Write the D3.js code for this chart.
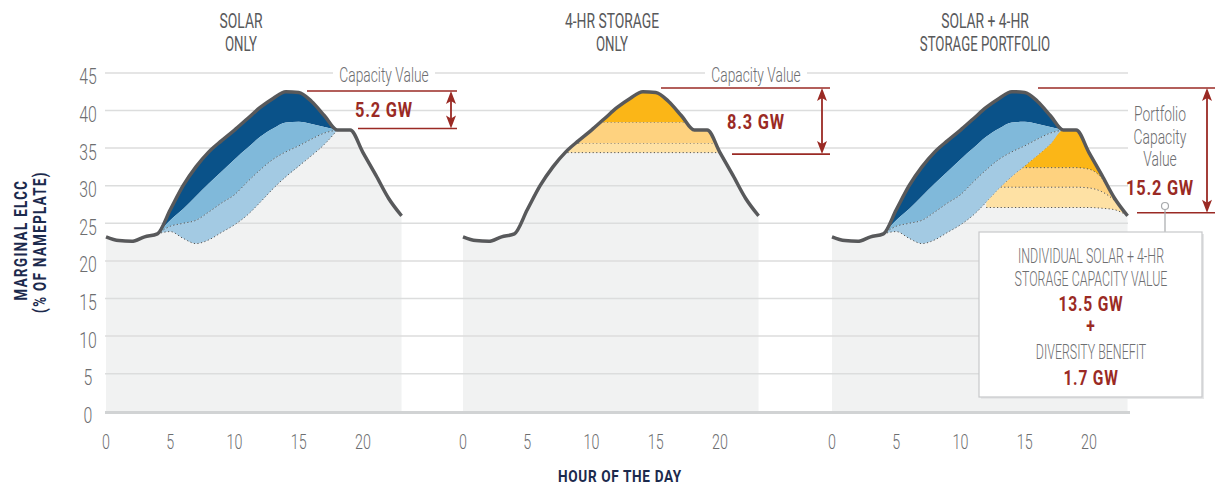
<!DOCTYPE html>
<html>
<script src="https://d3js.org/d3.v7.min.js"></script>

<head>
    <style>
        body {
            margin: 0;
            background-color: #fff;
            font-family: Roboto, "Open Sans", sans-serif;
        }

        svg {
            display: block;
        }
    </style>
</head>

<body>
</body>
<script>
    // ---- data ----
    const hours = d3.range(0, 24);
    const totalElcc = [23.2, 22.7, 22.6, 23.2, 23.6, 26.8, 30.0, 32.5, 34.5, 36.0, 37.4, 38.9,
        40.4, 41.6, 42.5, 42.4, 41.2, 39.3, 37.4, 37.4, 34.4, 31.4, 28.3, 26.0];

    // solar tranches, hours 4..18
    const solarHours = d3.range(4, 19);
    const solarTier1 = [23.6, 25.4, 26.9, 28.6, 30.3, 31.9, 33.5, 35.0, 36.5, 37.6, 38.4, 38.5, 38.2, 37.8, 37.4];
    const solarTier2 = [23.6, 24.6, 25.0, 25.4, 26.5, 27.7, 28.8, 30.5, 32.1, 33.5, 34.5, 35.3, 36.2, 37.0, 37.4];
    const solarTier3 = [23.6, 23.9, 23.0, 22.3, 22.8, 23.8, 24.8, 26.1, 27.8, 29.6, 31.2, 32.6, 34.0, 35.5, 37.4];

    // 4-hr storage tranches (flat levels)
    const storageLevels = [38.4, 35.6, 34.4];

    // portfolio storage tranches, hours 12..23
    const portfolioHours = d3.range(12, 24);
    const portfolioTier1 = [32.4, 32.4, 32.4, 32.4, 32.4, 32.4, 32.4, 32.4, 32.2, 31.0, 28.2, 26.0];
    const portfolioTier2 = [29.8, 29.8, 29.8, 29.8, 29.8, 29.8, 29.8, 29.8, 29.7, 29.2, 28.0, 26.0];
    const portfolioTier3 = [27.1, 27.1, 27.1, 27.1, 27.1, 27.1, 27.1, 27.1, 27.1, 27.0, 26.8, 26.0];

    const panelTitles = [["SOLAR", "ONLY"], ["4-HR STORAGE", "ONLY"], ["SOLAR + 4-HR", "STORAGE PORTFOLIO"]];
    const xTicks = [0, 5, 10, 15, 20];
    const yTicks = [0, 5, 10, 15, 20, 25, 30, 35, 40, 45];
    const capacityLabels = ["5.2 GW", "8.3 GW", "15.2 GW"];
    const capacityRanges = [[42.6, 37.6], [43.0, 34.2], [43.0, 26.4]];
    const boxLines = ["INDIVIDUAL SOLAR + 4-HR", "STORAGE CAPACITY VALUE", "13.5 GW", "+", "DIVERSITY BENEFIT", "1.7 GW"];

    // ---- layout ----
    const width = 1221,
        height = 487;
    const panelX = [106, 463, 832];
    const hourPx = 12.85;
    const red = "#9a2a24";
    const navy = "#1c2a4d";
    const colors = {
        gray: "#f1f2f2",
        grid: "#dcdddd",
        line: "#58595b",
        blue1: "#0a5289",
        blue2: "#80b9da",
        blue3: "#a3cae3",
        gold1: "#fbb617",
        gold2: "#fed27f",
        gold3: "#fee1a4"
    };

    const svg = d3.select("body").append("svg").attr("width", width).attr("height", height);
    const defs = svg.append("defs");

    const y = d3.scaleLinear().domain([0, 45]).range([411.3, 72.9]);
    const xs = panelX.map(x0 => d3.scaleLinear().domain([0, 23]).range([x0, x0 + 23 * hourPx]));

    // condensed look: scale text horizontally
    function label(g, x, yy, str, o) {
        return g.append("text")
            .attr("transform", `translate(${x},${yy})${o.rotate ? " rotate(-90)" : ""} scale(${o.sx || 0.7},1)`)
            .attr("text-anchor", o.anchor || "middle")
            .attr("font-size", o.size || 18)
            .attr("font-weight", o.weight || 300)
            .attr("fill", o.fill || "#6d6e70")
            .attr("letter-spacing", o.ls || 0)
            .text(str);
    }

    const totalData = hours.map((h, i) => ({ h: h, v: totalElcc[i] }));

    // gray area under the curve
    xs.forEach(x => {
        svg.append("path")
            .datum(totalData)
            .attr("fill", colors.gray)
            .attr("d", d3.area().curve(d3.curveMonotoneX)
                .x(d => x(d.h)).y0(y(0)).y1(d => y(d.v)));
    });

    // gridlines
    yTicks.filter(d => d > 0).forEach(d => {
        svg.append("line")
            .attr("x1", 105).attr("x2", 1128)
            .attr("y1", y(d)).attr("y2", y(d))
            .attr("stroke", colors.grid)
            .attr("stroke-width", 1.5);
    });
    svg.append("line")
        .attr("x1", 105).attr("x2", 1130)
        .attr("y1", y(0) + 1.2).attr("y2", y(0) + 1.2)
        .attr("stroke", "#d1d3d4")
        .attr("stroke-width", 3);

    // y labels
    yTicks.forEach(d => {
        label(svg, 88, y(d) + 11.5, d, { size: 22, sx: 0.72 });
    });

    function band(x, hs, lo, hi) {
        return d3.area().curve(d3.curveMonotoneX)
            .x((d, i) => x(hs[i]))
            .y0((d, i) => y(lo[i]))
            .y1((d, i) => y(hi[i]))(hs);
    }

    function dotted(g, x, hs, vals) {
        g.append("path")
            .attr("fill", "none")
            .attr("stroke", "#555")
            .attr("stroke-width", 1)
            .attr("stroke-dasharray", "1.2,2.4")
            .attr("d", d3.line().curve(d3.curveMonotoneX)
                .x((d, i) => x(hs[i])).y((d, i) => y(vals[i]))(hs));
    }

    const totalAtSolar = solarHours.map(h => totalElcc[h]);

    function drawSolar(x) {
        svg.append("path").attr("fill", colors.blue1).attr("d", band(x, solarHours, solarTier1, totalAtSolar));
        svg.append("path").attr("fill", colors.blue2).attr("d", band(x, solarHours, solarTier2, solarTier1));
        svg.append("path").attr("fill", colors.blue3).attr("d", band(x, solarHours, solarTier3, solarTier2));
        dotted(svg, x, solarHours, solarTier2);
        dotted(svg, x, solarHours, solarTier3);
    }

    // panel 1
    drawSolar(xs[0]);

    // panel 2: storage levels clipped under the curve
    defs.append("clipPath").attr("id", "clip2")
        .append("path")
        .datum(totalData)
        .attr("d", d3.area().curve(d3.curveMonotoneX)
            .x(d => xs[1](d.h)).y0(y(0)).y1(d => y(d.v)));
    const g2 = svg.append("g").attr("clip-path", "url(#clip2)");
    const storageTops = [45].concat(storageLevels.slice(0, -1));
    const goldFills = [colors.gold1, colors.gold2, colors.gold3];
    storageLevels.forEach((lv, i) => {
        g2.append("rect")
            .attr("x", xs[1](0)).attr("width", xs[1](23) - xs[1](0))
            .attr("y", y(storageTops[i]))
            .attr("height", y(lv) - y(storageTops[i]))
            .attr("fill", goldFills[i]);
        g2.append("line")
            .attr("x1", xs[1](0)).attr("x2", xs[1](23))
            .attr("y1", y(lv)).attr("y2", y(lv))
            .attr("stroke", "#555")
            .attr("stroke-width", 1)
            .attr("stroke-dasharray", "1.2,2.4");
    });

    // panel 3: solar + storage portfolio
    drawSolar(xs[2]);
    const netElcc = hours.map(h => {
        const i = solarHours.indexOf(h);
        return i >= 0 ? solarTier3[i] : totalElcc[h];
    });
    defs.append("clipPath").attr("id", "clip3")
        .append("path")
        .attr("d", d3.area().curve(d3.curveMonotoneX)
            .x((d, i) => xs[2](d)).y0(y(0)).y1((d, i) => y(netElcc[i]))(hours));
    const g3 = svg.append("g").attr("clip-path", "url(#clip3)");
    const topLine = portfolioHours.map(() => 45);
    g3.append("path").attr("fill", colors.gold1).attr("d", band(xs[2], portfolioHours, portfolioTier1, topLine));
    g3.append("path").attr("fill", colors.gold2).attr("d", band(xs[2], portfolioHours, portfolioTier2, portfolioTier1));
    g3.append("path").attr("fill", colors.gold3).attr("d", band(xs[2], portfolioHours, portfolioTier3, portfolioTier2));
    dotted(g3, xs[2], portfolioHours, portfolioTier1);
    dotted(g3, xs[2], portfolioHours, portfolioTier2);
    dotted(g3, xs[2], portfolioHours, portfolioTier3);

    // main curve
    xs.forEach(x => {
        svg.append("path")
            .datum(totalData)
            .attr("fill", "none")
            .attr("stroke", colors.line)
            .attr("stroke-width", 3.5)
            .attr("stroke-linejoin", "round")
            .attr("d", d3.line().curve(d3.curveMonotoneX).x(d => x(d.h)).y(d => y(d.v)));
    });

    // x ticks
    xs.forEach(x => {
        xTicks.forEach(t => label(svg, x(t), 449, t, { size: 21, sx: 0.68 }));
    });

    // titles
    const titleX = [241, 612, 985];
    panelTitles.forEach((t, i) => {
        label(svg, titleX[i], 28, t[0], { size: 21, sx: 0.66, weight: 400, fill: "#58595b" });
        label(svg, titleX[i], 51, t[1], { size: 21, sx: 0.63, weight: 400, fill: "#58595b" });
    });

    // axis titles
    label(svg, 620, 482, "HOUR OF THE DAY", { size: 17, sx: 0.8, weight: 700, fill: navy, ls: 0.8 });
    label(svg, 27, 240, "MARGINAL ELCC", { size: 19, sx: 0.7, weight: 700, fill: navy, ls: 2, rotate: true });
    label(svg, 46, 242, "(% OF NAMEPLATE)", { size: 19, sx: 0.7, weight: 700, fill: navy, ls: 2, rotate: true });

    // capacity annotations
    function arrow(x, y1, y2) {
        svg.append("line").attr("x1", x).attr("x2", x).attr("y1", y1 + 6).attr("y2", y2 - 6)
            .attr("stroke", red).attr("stroke-width", 1.8);
        svg.append("path").attr("fill", red)
            .attr("d", `M${x},${y1}L${x - 5},${y1 + 13}L${x},${y1 + 10}L${x + 5},${y1 + 13}Z`);
        svg.append("path").attr("fill", red)
            .attr("d", `M${x},${y2}L${x - 5},${y2 - 13}L${x},${y2 - 10}L${x + 5},${y2 - 13}Z`);
    }
    function hline(x1, x2, v) {
        svg.append("line").attr("x1", x1).attr("x2", x2).attr("y1", y(v)).attr("y2", y(v))
            .attr("stroke", red).attr("stroke-width", 1.6);
    }
    const annot = [
        { top: [307, 457], bot: [358, 457], ax: 451, lx: 384 },
        { top: [661, 830], bot: [732, 830], ax: 822, lx: 756 },
        { top: [1038, 1215], bot: [1137, 1215], ax: 1207, lx: 1160 }
    ];
    annot.forEach((a, i) => {
        const [vt, vb] = capacityRanges[i];
        hline(a.top[0], a.top[1], vt);
        hline(a.bot[0], a.bot[1], vb);
        arrow(a.ax, y(vt), y(vb));
    });
    [0, 1].forEach(i => {
        svg.append("rect").attr("x", annot[i].lx - 51).attr("y", 64).attr("width", 102).attr("height", 20).attr("fill", "#fff");
        label(svg, annot[i].lx, 82, "Capacity Value", { size: 20, sx: 0.69 });
        const mid = (y(capacityRanges[i][0]) + y(capacityRanges[i][1])) / 2;
        label(svg, annot[i].lx, mid + 7.5, capacityLabels[i], { size: 21, sx: 0.78, weight: 700, fill: red, ls: 1 });
    });
    ["Portfolio", "Capacity", "Value"].forEach((s, i) => {
        label(svg, 1160, 121 + i * 22.5, s, { size: 21, sx: 0.66 });
    });
    label(svg, 1160, 195, capacityLabels[2], { size: 21, sx: 0.78, weight: 700, fill: red, ls: 1 });

    // connector and box
    svg.append("line").attr("x1", 1165).attr("x2", 1165).attr("y1", 209.5).attr("y2", 232)
        .attr("stroke", "#a7a9ac").attr("stroke-width", 1.2);
    svg.append("circle").attr("cx", 1165).attr("cy", 206).attr("r", 3.5)
        .attr("fill", "#fff").attr("stroke", "#a7a9ac").attr("stroke-width", 1.2);
    svg.append("rect").attr("x", 981).attr("y", 234).attr("width", 223).attr("height", 165).attr("fill", "#e6e7e8");
    svg.append("rect").attr("x", 979).attr("y", 232).attr("width", 223).attr("height", 165)
        .attr("fill", "#fff").attr("stroke", "#c7c8ca").attr("stroke-width", 1.2);
    const boxY = [263, 286, 311, 333, 359, 385];
    boxLines.forEach((s, i) => {
        const strong = s.includes("GW") || s === "+";
        label(svg, 1091, boxY[i], s, strong
            ? { size: 20, sx: 0.78, weight: 700, fill: red, ls: 1 }
            : { size: 20, sx: 0.62 });
    });
</script>

</html>
